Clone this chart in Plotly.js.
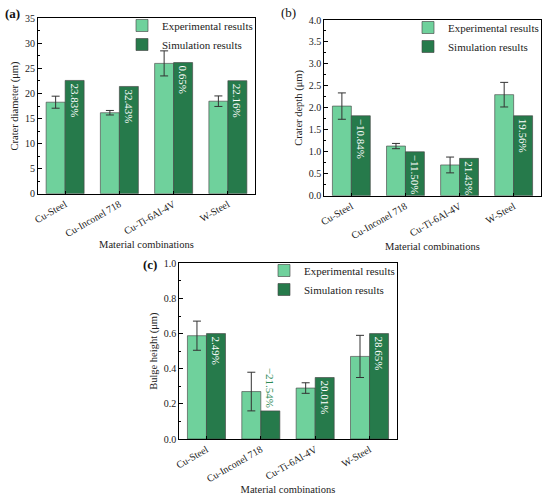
<!DOCTYPE html>
<html>
<head>
<meta charset="utf-8">
<script src="https://cdn.plot.ly/plotly-3.0.1.min.js"></script>
<style>html,body{margin:0;padding:0;background:#fff;}#chart{width:550px;height:495px;}</style>
</head>
<body>
<div id="chart"></div>
<script>
// ---- data ----
var categories = ['Cu-Steel', 'Cu-Inconel 718', 'Cu-Ti-6Al-4V', 'W-Steel'];
var seriesNames = ['Experimental results', 'Simulation results'];

var diameterExp = [18.26, 16.16, 26.0, 18.46];
var diameterExpErr = [1.2, 0.45, 2.5, 1.05];
var diameterSim = [22.6, 21.4, 26.17, 22.55];
var diameterLabels = ['23.83%', '32.43%', '0.65%', '22.16%'];

var depthExp = [2.04, 1.13, 0.70, 2.30];
var depthExpErr = [0.30, 0.06, 0.18, 0.28];
var depthSim = [1.82, 1.0, 0.85, 1.82];
var depthLabels = ['\u221210.84%', '\u221211.50%', '21.43%', '19.56%'];

var heightExp = [0.588, 0.27, 0.29, 0.47];
var heightExpErr = [0.083, 0.11, 0.03, 0.12];
var heightSim = [0.60, 0.16, 0.35, 0.60];
var heightLabels = ['2.49%', '\u221221.54%', '20.01%', '28.65%'];
var heightLabelPos = ['inside', 'outside', 'inside', 'inside'];

var yTitles = ['Crater diameter (\u03bcm)', 'Crater depth (\u03bcm)', 'Bulge height (\u03bcm)'];
var xTitle = 'Material combinations';
var panelLabels = ['(a)', '(b)', '(c)'];

// ---- style ----
var FONT = '"Liberation Serif", "Times New Roman", serif';
var LIGHT = '#6fd19c';
var DARK = '#267a4b';
var OUTLINE = 'rgba(70,70,70,0.8)';

function expTrace(vals, errs, xa, ya, lg) {
  return {
    type: 'bar', x: categories, y: vals, name: seriesNames[0],
    xaxis: xa, yaxis: ya, legend: lg,
    marker: {color: LIGHT, line: {color: OUTLINE, width: 0.8}},
    error_y: {type: 'data', array: errs, visible: true, color: '#333', thickness: 1, width: 4},
    hoverinfo: 'x+y'
  };
}
function simTrace(vals, labels, xa, ya, lg, pos) {
  return {
    type: 'bar', x: categories, y: vals, name: seriesNames[1],
    xaxis: xa, yaxis: ya, legend: lg,
    marker: {color: DARK, line: {color: OUTLINE, width: 0.8}},
    text: labels, textposition: pos || 'inside', insidetextanchor: 'end',
    textangle: 90, constraintext: 'none', cliponaxis: false,
    insidetextfont: {family: FONT, size: 11, color: '#ffffff'},
    outsidetextfont: {family: FONT, size: 11, color: '#2e8b57'},
    hoverinfo: 'x+y'
  };
}

var data = [
  expTrace(diameterExp, diameterExpErr, 'x', 'y', 'legend'),
  simTrace(diameterSim, diameterLabels, 'x', 'y', 'legend'),
  expTrace(depthExp, depthExpErr, 'x2', 'y2', 'legend2'),
  simTrace(depthSim, depthLabels, 'x2', 'y2', 'legend2'),
  expTrace(heightExp, heightExpErr, 'x3', 'y3', 'legend3'),
  simTrace(heightSim, heightLabels, 'x3', 'y3', 'legend3', heightLabelPos)
];

var W = 550, H = 495;
function px(v) { return v / W; }
function py(v) { return 1 - v / H; }

function xaxis(l, r, anchor) {
  return {
    domain: [px(l), px(r)], anchor: anchor, type: 'category',
    showline: true, linecolor: '#000', linewidth: 1, mirror: true,
    ticks: 'inside', ticklen: 3, tickcolor: '#000', tickangle: -30,
    tickfont: {family: FONT, size: 10, color: '#222'},
    title: {text: xTitle, font: {family: FONT, size: 10.5, color: '#222'}, standoff: 0},
    showgrid: false, zeroline: false, fixedrange: true
  };
}
function yaxis(t, b, anchor, range, dtick, minorDtick, fmt, title) {
  return {
    domain: [py(b), py(t)], anchor: anchor, range: range, dtick: dtick, tick0: 0,
    tickformat: fmt,
    showline: true, linecolor: '#000', linewidth: 1, mirror: true,
    ticks: 'inside', ticklen: 4, tickcolor: '#000',
    minor: {ticks: 'inside', ticklen: 2, dtick: minorDtick, tickcolor: '#000', showgrid: false},
    tickfont: {family: FONT, size: 10, color: '#222'},
    title: {text: title, font: {family: FONT, size: 10.5, color: '#222'}, standoff: 4},
    showgrid: false, zeroline: false, fixedrange: true
  };
}
function legend(xr, yt) {
  return {
    x: px(xr), y: py(yt), xanchor: 'right', yanchor: 'top',
    bgcolor: 'rgba(0,0,0,0)', borderwidth: 0,
    font: {family: FONT, size: 11, color: '#222'},
    tracegroupgap: 0, itemwidth: 30, orientation: 'v'
  };
}

var layout = {
  width: W, height: H,
  font: {family: FONT, size: 10, color: '#222'},
  margin: {l: 0, r: 0, t: 0, b: 0},
  paper_bgcolor: '#fff', plot_bgcolor: '#fff',
  barmode: 'group', bargap: 0.3, bargroupgap: 0,
  xaxis: xaxis(38, 255, 'y'),
  yaxis: yaxis(18.3, 193.7, 'x', [0, 35], 5, 2.5, 'd', yTitles[0]),
  xaxis2: xaxis(324.3, 540.7, 'y2'),
  yaxis2: yaxis(20, 195.7, 'x2', [0, 4], 0.5, 0.25, '.1f', yTitles[1]),
  xaxis3: xaxis(179.3, 396.7, 'y3'),
  yaxis3: yaxis(263.3, 439, 'x3', [0, 1], 0.2, 0.1, '.1f', yTitles[2]),
  legend: legend(258, 11),
  legend2: legend(544, 13),
  legend3: legend(400, 256),
  showlegend: true,
  annotations: [
    {text: '<b>' + panelLabels[0] + '</b>', x: px(3), y: py(14), xref: 'paper', yref: 'paper', xanchor: 'left', yanchor: 'middle', showarrow: false, font: {family: FONT, size: 13, color: '#111'}},
    {text: panelLabels[1], x: px(279), y: py(13), xref: 'paper', yref: 'paper', xanchor: 'left', yanchor: 'middle', showarrow: false, font: {family: FONT, size: 13, color: '#111'}},
    {text: '<b>' + panelLabels[2] + '</b>', x: px(141), y: py(264), xref: 'paper', yref: 'paper', xanchor: 'left', yanchor: 'middle', showarrow: false, font: {family: FONT, size: 13, color: '#111'}}
  ]
};

Plotly.newPlot('chart', data, layout, {displayModeBar: false, staticPlot: true});
</script>
</body>
</html>
